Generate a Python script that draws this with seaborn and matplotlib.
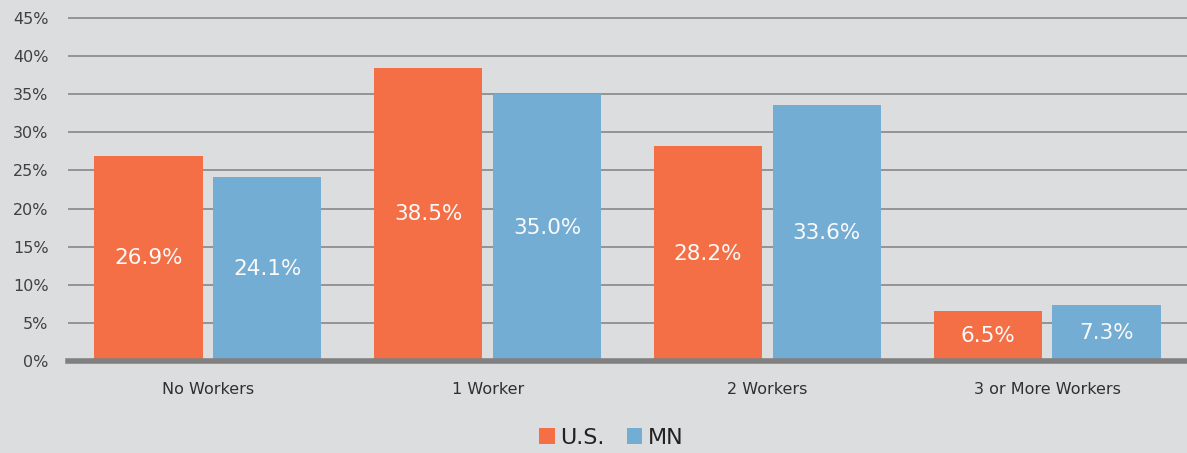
import matplotlib
matplotlib.use("Agg")
import matplotlib.pyplot as plt
import seaborn as sns
import pandas as pd
from matplotlib.patches import Patch

categories = ["No Workers", "1 Worker", "2 Workers", "3 or More Workers"]
us_values = [26.9, 38.5, 28.2, 6.5]
mn_values = [24.1, 35.0, 33.6, 7.3]
series = ["U.S.", "MN"]
colors = ["#F46F45", "#74ADD4"]
yticks = [0, 5, 10, 15, 20, 25, 30, 35, 40, 45]

df = pd.DataFrame({
    "category": categories * 2,
    "series": [series[0]] * len(categories) + [series[1]] * len(categories),
    "value": us_values + mn_values,
})

bg = "#DCDDDF"
sns.set_theme(style="white")
plt.rcParams["font.family"] = ["DejaVu Sans"]

ymax = 45.5
px_per_unit = (361 - 18) / 45
top_px = 361 - ymax * px_per_unit
fig = plt.figure(figsize=(11.87, 4.53), dpi=100, facecolor=bg)
ax = fig.add_axes([68 / 1187, 1 - 361 / 453, 1 - 68 / 1187, (361 - top_px) / 453])
ax.set_facecolor(bg)

sns.barplot(data=df, x="category", y="value", hue="series", order=categories,
            hue_order=series, palette=colors, width=0.85, gap=0.09,
            saturation=1, ax=ax, legend=False, linewidth=0, zorder=3)

for cont in ax.containers:
    labels = [f"{v:.1f}%" for v in cont.datavalues]
    ax.bar_label(cont, labels=labels, label_type="center", color="#FAFAFA",
                 fontsize=15.5, zorder=4)

ax.set_ylim(0, ymax)
ax.set_xlim(-0.5, 3.5)
ax.set_yticks(yticks)
ax.set_yticklabels([f"{t}%" for t in yticks], fontsize=11.5, color="#404040")
ax.tick_params(axis="y", length=0, pad=14)
ax.tick_params(axis="x", length=0, pad=15, labelsize=11.5, labelcolor="#303030")
ax.yaxis.grid(True, color="#878787", linewidth=1.2, zorder=0)
ax.set_axisbelow(True)
for s in ["top", "right", "left"]:
    ax.spines[s].set_visible(False)
ax.spines["bottom"].set_color("#808080")
ax.spines["bottom"].set_linewidth(4)
ax.spines["bottom"].set_zorder(5)
ax.set_xlabel("")
ax.set_ylabel("")

handles = [Patch(facecolor=c, edgecolor="none") for c in colors]
fig.legend(handles, series, loc="center", bbox_to_anchor=(0.515, 0.033),
           ncol=2, frameon=False, fontsize=16, handlelength=0.7,
           handleheight=0.7, handletextpad=0.25, columnspacing=1.0,
           labelcolor="#222222")

fig.savefig("out.png", dpi=100, facecolor=bg)
